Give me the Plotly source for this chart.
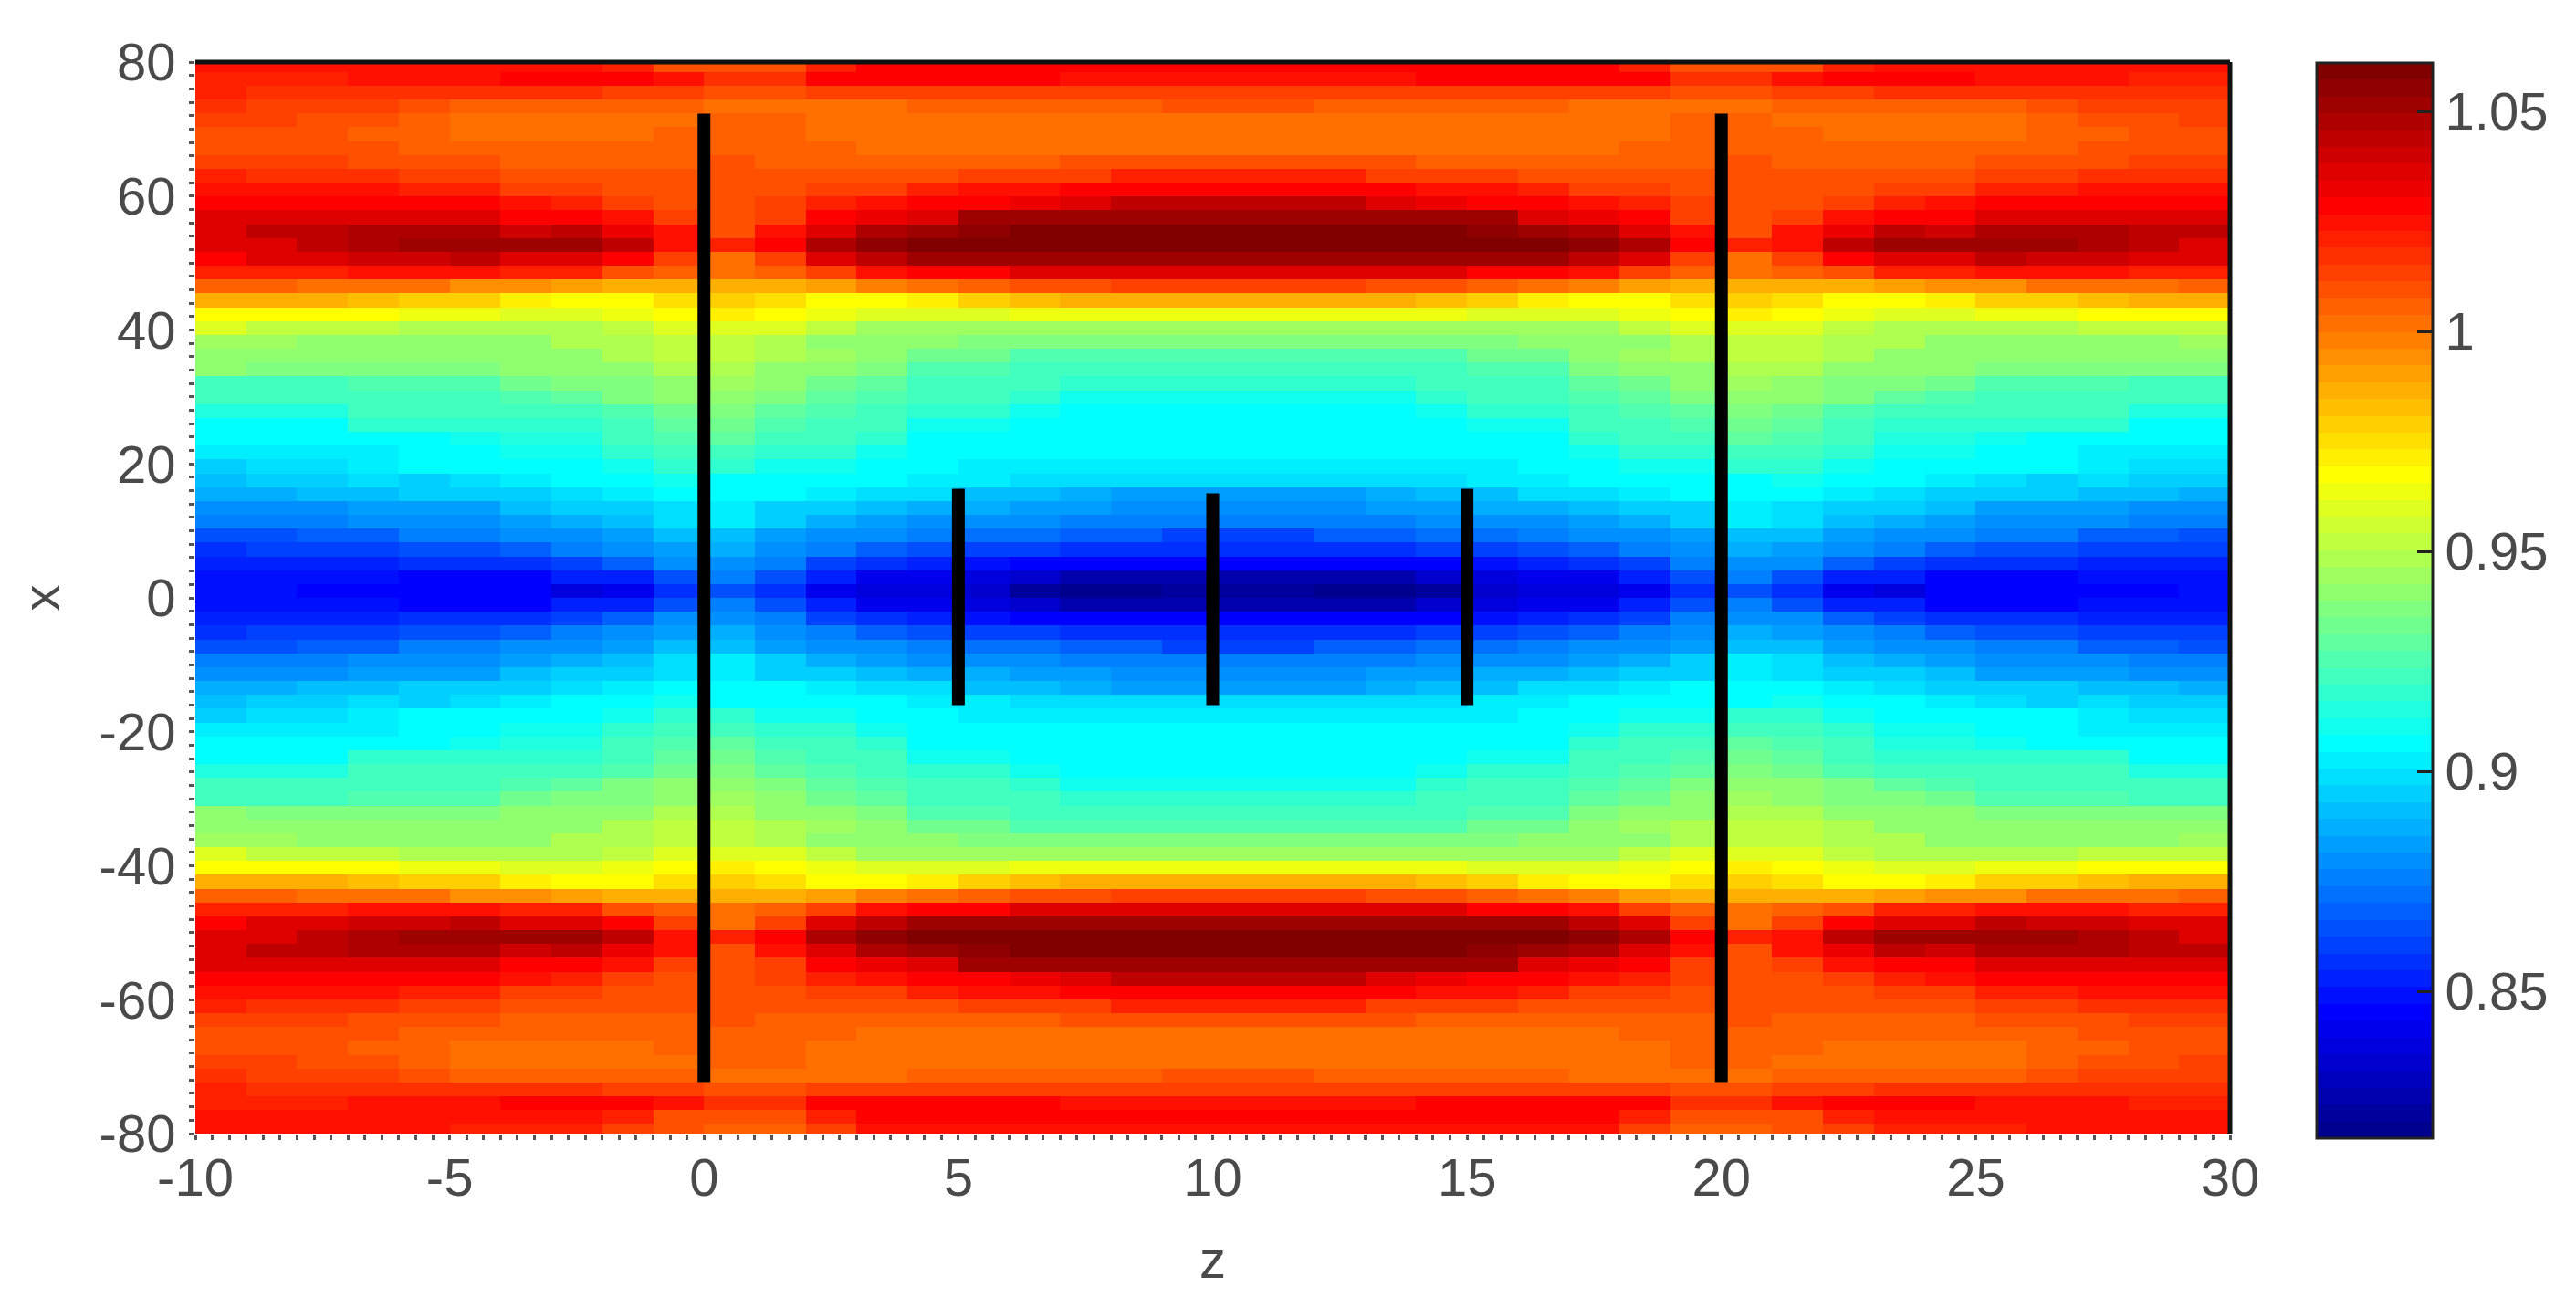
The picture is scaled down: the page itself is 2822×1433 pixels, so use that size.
import numpy as np
import plotly.graph_objects as go

v39 = [1023,1023,1023,1023,1023,1021,1019,1019,1015,1008,1004,1006,1015,1023,1025,1025,1025,1025,1025,1025,1025]
v38 = [1025,1025,1025,1025,1025,1025,1025,1025,1021,1011,1009,1011,1021,1027,1027,1027,1027,1027,1027,1027,1027]
v37 = [1021,1021,1021,1026,1026,1026,1030,1030,1027,1023,1017,1017,1027,1030,1027,1027,1027,1024,1024,1024,1024]
v36 = [1020,1018,1018,1018,1018,1018,1018,1018,1013,1013,1011,1011,1015,1015,1015,1015,1015,1015,1015,1015,1015]
v35 = [1017,1013,1013,1013,1009,1006,1006,1004,1004,1004,1003,1003,1001,1001,1004,1006,1006,1006,1006,1009,1009]
v34 = [1013,1013,1011,1011,1006,1003,1003,1003,1003,1003,1005,1004,1000,1000,1000,1000,1003,1003,1003,1003,1003]
v33 = [1011,1009,1009,1006,1006,1003,1003,1003,1003,1005,1005,1005,1003,1000,1000,1000,1000,1003,1003,1003,1003]
v32 = [1011,1011,1009,1009,1005,1005,1005,1005,1005,1005,1005,1005,1005,1003,1003,1003,1003,1003,1003,1003,1003]
v31 = [1015,1012,1012,1008,1008,1008,1006,1006,1006,1006,1008,1006,1006,1006,1006,1006,1006,1008,1008,1008,1008]
v30 = [1020,1016,1016,1016,1012,1012,1009,1009,1009,1009,1010,1009,1009,1009,1009,1014,1014,1014,1019,1019,1019]
v29 = [1026,1026,1023,1023,1019,1019,1015,1015,1011,1011,1011,1011,1015,1015,1020,1024,1024,1027,1027,1030,1030]
v28 = [1030,1030,1030,1030,1027,1027,1023,1019,1015,1011,1011,1014,1020,1023,1027,1030,1034,1038,1042,1042,1042]
v27 = [1038,1038,1038,1038,1038,1036,1030,1027,1023,1015,1011,1015,1027,1034,1038,1050,1050,1050,1053,1053,1053]
v26 = [1038,1042,1042,1046,1046,1046,1041,1042,1034,1023,1011,1025,1038,1046,1053,1057,1060,1061,1061,1061,1061]
v25 = [1038,1038,1042,1046,1050,1050,1053,1050,1042,1025,1019,1027,1046,1057,1061,1061,1061,1061,1061,1061,1061]
v24 = [1030,1036,1036,1041,1041,1045,1038,1036,1027,1015,1000,1015,1036,1044,1051,1053,1053,1053,1053,1053,1053]
v23 = [1019,1019,1019,1023,1023,1023,1019,1019,1011,1004,1000,1004,1015,1023,1027,1030,1035,1035,1035,1035,1035]
v22 = [1004,1004,1000,1000,1000,996,996,992,988,988,988,988,992,997,1001,1005,1008,1008,1012,1012,1012]
v21 = [986,986,986,982,978,978,973,969,969,975,977,974,969,969,973,978,982,986,986,986,986]
v20 = [969,969,966,966,962,962,958,958,962,966,971,966,962,958,958,958,963,963,963,963,963]
v19 = [958,952,952,952,950,950,950,950,954,960,960,958,952,946,946,946,946,946,946,946,946]
v18 = [946,946,942,942,942,942,942,948,948,952,954,950,942,940,939,935,935,935,935,935,935]
v17 = [942,942,939,939,939,942,942,942,948,952,954,950,946,939,932,932,927,927,927,925,925]
v16 = [939,937,937,935,935,935,939,942,940,948,948,942,939,935,927,927,923,920,920,920,920]
v15 = [923,923,923,927,927,927,932,937,937,942,944,939,932,931,923,923,920,916,916,916,916]
v14 = [920,920,920,923,923,923,927,931,935,939,940,935,931,927,920,920,916,912,912,912,912]
v13 = [914,914,914,920,920,920,923,923,927,932,937,931,927,923,916,916,912,908,908,908,908]
v12 = [908,908,908,916,916,916,918,918,923,929,932,927,923,920,912,912,908,908,908,908,908]
v11 = [905,905,905,908,908,912,914,914,920,925,929,923,920,916,908,908,908,908,908,908,908]
v10 = [901,901,901,904,908,908,910,912,916,923,923,918,916,912,908,906,906,906,906,906,906]
v09 = [895,899,899,902,908,908,908,908,912,916,916,912,910,908,908,904,902,904,904,902,902]
v08 = [891,893,893,897,895,899,904,908,908,910,908,908,908,908,904,901,899,899,897,897,897]
v07 = [887,887,890,890,893,893,893,897,904,908,906,906,902,897,897,891,891,889,885,885,885]
v06 = [878,881,881,883,883,885,891,895,895,899,902,895,893,891,889,887,885,883,881,881,881]
v05 = [874,874,874,878,880,880,883,887,891,897,901,893,889,885,881,878,878,876,876,874,874]
v04 = [866,866,870,870,874,874,878,881,885,891,891,885,881,878,874,872,872,868,868,862,862]
v03 = [858,862,862,862,866,866,870,874,878,885,887,881,876,870,866,862,862,858,858,858,858]
v02 = [853,853,853,853,855,857,857,862,870,878,880,874,862,857,853,848,847,847,847,847,847]
v01 = [849,849,849,849,847,847,847,851,853,866,874,866,851,843,842,836,832,828,826,828,828]
v00 = [849,849,847,847,847,844,844,836,840,858,866,855,842,838,838,832,824,820,820,824,824]

bands = [v00,v01,v02,v03,v04,v05,v06,v07,v08,v09,v10,v11,v12,v13,v14,v15,v16,v17,v18,v19,
         v20,v21,v22,v23,v24,v25,v26,v27,v28,v29,v30,v31,v32,v33,v34,v35,v36,v37,v38,v39]

bar_z = [0, 5, 10, 15, 20]
bar_top = [72.3, 16.3, 15.6, 16.3, 72.3]
bar_bottom = [-72.3, -16, -16, -16, -72.3]

x_ticks = [-10, -5, 0, 5, 10, 15, 20, 25, 30]
y_ticks = [-80, -60, -40, -20, 0, 20, 40, 60, 80]
cbar_ticks = [0.85, 0.9, 0.95, 1, 1.05]
cbar_labels = ["0.85", "0.9", "0.95", "1", "1.05"]

ZMIN, ZMAX = 0.8166, 1.061
ROW = 2.0667   # height of one band in x units

# The picture repeats: columns mirror about z = 10, rows mirror about x = 0 with a one-band shift.
half = np.array(bands, dtype=float) / 1000.0
col_index = [z + 10 if z <= 10 else (20 - z) + 10 for z in range(-10, 30)]
half = half[:, col_index]
row_index = list(range(39, 0, -1)) + list(range(0, 39))
Z = half[row_index, :]
x_edges = np.arange(-10, 31)
y_edges = np.arange(-39, 40) * ROW


def jet(t):
    r = np.clip(min(4 * t - 1.5, -4 * t + 4.5), 0, 1)
    g = np.clip(min(4 * t - 0.5, -4 * t + 3.5), 0, 1)
    b = np.clip(min(4 * t + 0.5, -4 * t + 2.5), 0, 1)
    return f"rgb({int(r*255+.5)},{int(g*255+.5)},{int(b*255+.5)})"


LEVELS = 64
colorscale = []
for i in range(LEVELS):
    c = jet((i + 1) / LEVELS)
    colorscale.append([i / LEVELS, c])
    colorscale.append([(i + 1) / LEVELS, c])

W, H = 2822, 1433
L, R, T, B = 214, 2444, 68, 1242
CB_L, CB_R, CB_T, CB_B = 2538, 2665, 69, 1247
px = lambda v: (v - L) / (R - L)
py = lambda v: (B - v) / (B - T)

FONT = "Liberation Sans"
TXT = "#4a4a4a"

fig = go.Figure()
fig.add_trace(go.Heatmap(
    x=x_edges, y=y_edges, z=Z, zmin=ZMIN, zmax=ZMAX, colorscale=colorscale,
    hoverinfo="skip",
    colorbar=dict(
        x=px(CB_L), xanchor="left", xpad=0,
        y=py(CB_B), yanchor="bottom", ypad=0,
        len=(CB_B - CB_T) / (B - T), lenmode="fraction",
        thickness=CB_R - CB_L, thicknessmode="pixels",
        outlinewidth=3, outlinecolor="#222222",
        tickmode="array", tickvals=cbar_ticks, ticktext=cbar_labels,
        ticks="inside", ticklen=18, tickwidth=3, tickcolor="#222222",
        tickfont=dict(family=FONT, size=58, color=TXT),
    ),
))
for z, top, bot in zip(bar_z, bar_top, bar_bottom):
    fig.add_trace(go.Scatter(x=[z, z], y=[bot, top], mode="lines",
                             line=dict(color="black", width=14),
                             showlegend=False, hoverinfo="skip"))

shapes = [
    dict(type="line", xref="paper", yref="paper", x0=0, x1=1, y0=1, y1=1,
         line=dict(color="#111111", width=5), layer="above"),
    dict(type="line", xref="paper", yref="paper", x0=1, x1=1, y0=0, y1=1,
         line=dict(color="#111111", width=5), layer="above"),
]
fig.update_layout(
    width=W, height=H,
    margin=dict(l=L, r=W - R, t=T, b=H - B, pad=0),
    paper_bgcolor="white", plot_bgcolor="white",
    font=dict(family=FONT, color=TXT, size=58),
    showlegend=False,
    shapes=shapes,
    xaxis=dict(
        range=[-10, 30], tickmode="array", tickvals=x_ticks,
        ticktext=[str(v) for v in x_ticks],
        ticks="outside", ticklen=6, tickwidth=3, tickcolor="#555555",
        ticklabelstandoff=-9,
        minor=dict(dtick=1 / 3, tick0=-10, ticks="outside", ticklen=6, tickwidth=3, tickcolor="#555555"),
        showgrid=False, zeroline=False, showline=False,
        tickfont=dict(family=FONT, size=58, color=TXT),
        title=dict(text="z", standoff=38, font=dict(family=FONT, size=58, color=TXT)),
    ),
    yaxis=dict(
        range=[-80, 80], tickmode="array", tickvals=y_ticks,
        ticktext=[str(v) for v in y_ticks],
        ticks="outside", ticklen=6, tickwidth=3, tickcolor="#555555",
        ticklabelstandoff=3,
        minor=dict(dtick=2, tick0=0, ticks="outside", ticklen=6, tickwidth=3, tickcolor="#555555"),
        showgrid=False, zeroline=False, showline=False,
        tickfont=dict(family=FONT, size=58, color=TXT),
        title=dict(text="x", standoff=24, font=dict(family=FONT, size=58, color=TXT)),
    ),
)
fig.write_html("out.html", post_script="document.body.style.margin='0';",
               config=dict(displayModeBar=False))
